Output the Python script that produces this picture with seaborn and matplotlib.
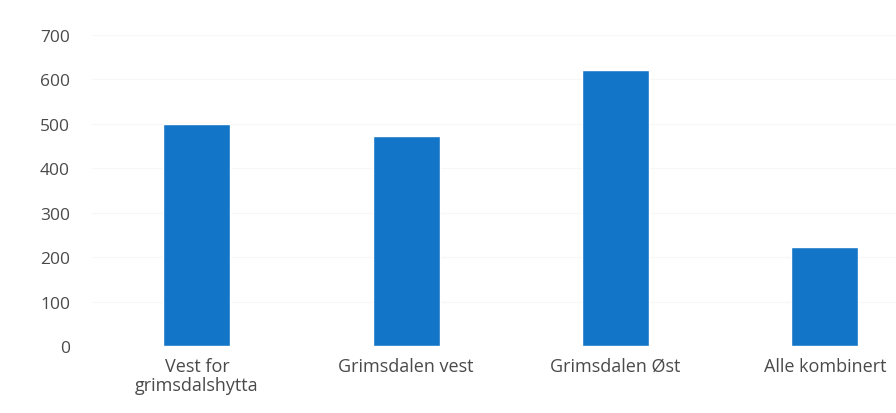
import matplotlib
matplotlib.use("Agg")
import matplotlib.pyplot as plt
import seaborn as sns
import pandas as pd

categories = ["Vest for\ngrimsdalshytta", "Grimsdalen vest", "Grimsdalen Øst", "Alle kombinert"]
values = [500, 472, 622, 222]
yticks = [0, 100, 200, 300, 400, 500, 600, 700]

df = pd.DataFrame({"omrade": categories, "antall": values})

sns.set_style("white")
plt.rcParams["font.family"] = ["Open Sans", "DejaVu Sans"]

fig = plt.figure(figsize=(8.96, 4.14), dpi=100)
ax = fig.add_axes([0.103, 0.162, 0.897, 0.751])
sns.barplot(data=df, x="omrade", y="antall", color="#1275C8", width=0.32,
            saturation=1, ax=ax)

ax.set_ylim(0, 700)
ax.set_yticks(yticks)
ax.set_xlim(-0.5, 3.34)
ax.yaxis.grid(True, color="#F7F7F7", linewidth=0.8)
ax.set_axisbelow(True)
sns.despine(ax=ax, left=True, bottom=True, right=True, top=True)
ax.tick_params(axis="both", length=0, colors="#4A4A4A")
ax.tick_params(axis="y", pad=16, labelsize=12.5)
ax.tick_params(axis="x", pad=8, labelsize=13)
for lbl in ax.get_xticklabels():
    lbl.set_linespacing(1.1)
ax.set_xlabel("")
ax.set_ylabel("")

fig.savefig("out.png", dpi=100)
